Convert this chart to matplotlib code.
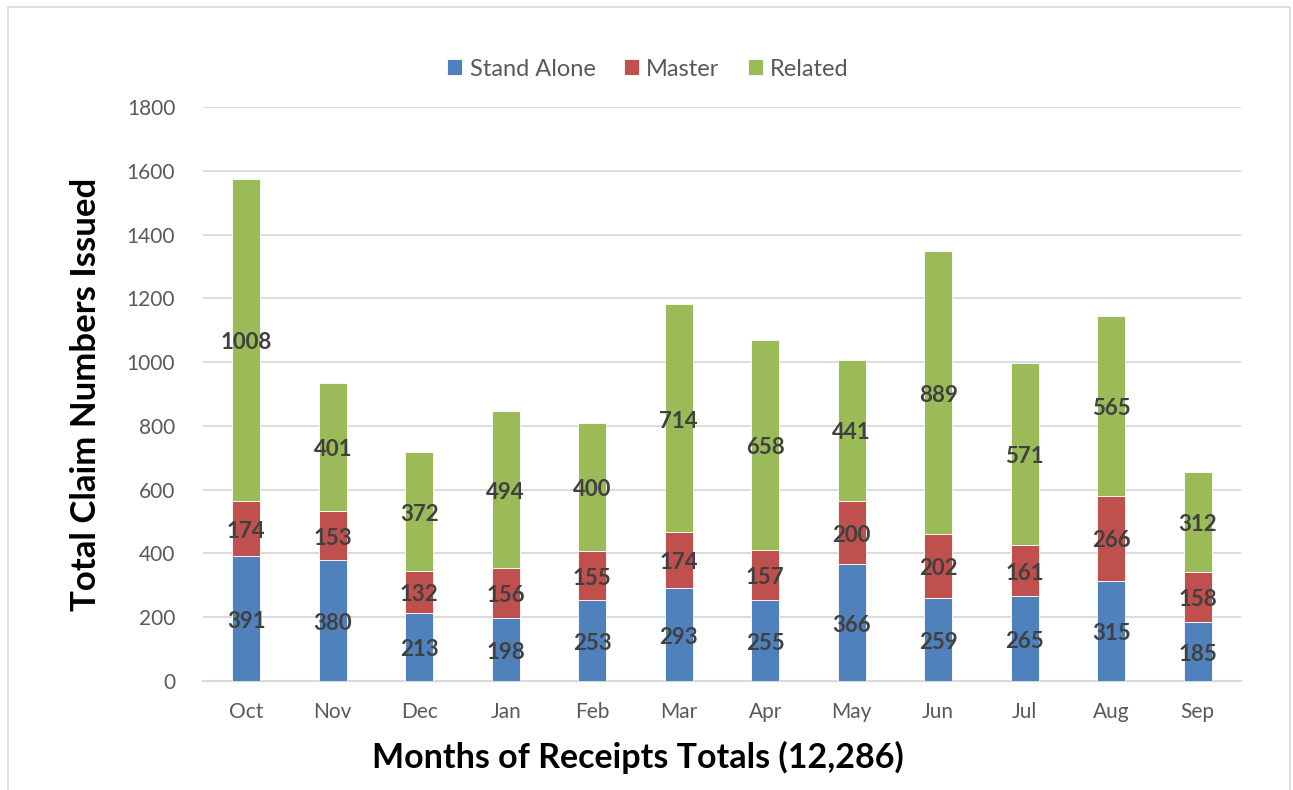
import matplotlib
matplotlib.use("Agg")
import matplotlib.pyplot as plt
from matplotlib.patches import Rectangle
import numpy as np

months = ["Oct", "Nov", "Dec", "Jan", "Feb", "Mar", "Apr", "May", "Jun", "Jul", "Aug", "Sep"]
stand_alone = [391, 380, 213, 198, 253, 293, 255, 366, 259, 265, 315, 185]
master = [174, 153, 132, 156, 155, 174, 157, 200, 202, 161, 266, 158]
related = [1008, 401, 372, 494, 400, 714, 658, 441, 889, 571, 565, 312]
series_names = ["Stand Alone", "Master", "Related"]
colors = ["#4F81BD", "#C0504D", "#9BBB59"]
yticks = [0, 200, 400, 600, 800, 1000, 1200, 1400, 1600, 1800]

plt.rcParams['font.family'] = ['Lato', 'DejaVu Sans']

W, H = 1293, 790
fig = plt.figure(figsize=(W / 100, H / 100), dpi=100)
ax = fig.add_axes([203 / W, 1 - 681 / H, (1241 - 203) / W, (681 - 107) / H])

x = np.arange(len(months))
bottom = np.zeros(len(months))
width = 0.32
for name, vals, c in zip(series_names, [stand_alone, master, related], colors):
    vals = np.array(vals)
    ax.bar(x, vals, width, bottom=bottom, color=c, label=name,
           edgecolor="white", linewidth=0.6, zorder=3)
    for xi, b, v in zip(x, bottom, vals):
        ax.annotate(str(v), (xi, b + v / 2), xytext=(0, -2), textcoords="offset points",
                    ha="center", va="center", fontsize=16, fontweight="bold",
                    color="#404040", zorder=4)
    bottom += vals

ax.set_xlim(-0.5, len(months) - 0.5)
ax.set_ylim(0, 1800)
ax.set_yticks(yticks)
ax.set_xticks(x)
ax.set_xticklabels(months)
ax.grid(axis="y", color="#D9D9D9", linewidth=1.3, zorder=0)
ax.set_axisbelow(True)
for s in ["top", "right", "left"]:
    ax.spines[s].set_visible(False)
ax.spines["bottom"].set_color("#D9D9D9")
ax.spines["bottom"].set_linewidth(1.5)
ax.tick_params(axis="both", length=0, labelsize=15, labelcolor="#595959")
ax.tick_params(axis="y", pad=20)
ax.tick_params(axis="x", pad=15)

ax.set_ylabel("Total Claim Numbers Issued", fontsize=25, fontweight="bold",
              color="black", labelpad=18)

fig.text(638 / W, 1 - 757 / H, "Months of Receipts Totals (12,286)", fontsize=24.5,
         fontweight="bold", color="black", ha="center", va="center")

leg = fig.legend(loc="center", bbox_to_anchor=(648 / W, 1 - 69 / H), ncol=3,
                 frameon=False, fontsize=17, handlelength=0.65, handleheight=0.65,
                 handletextpad=0.3, columnspacing=1.2)
for t in leg.get_texts():
    t.set_color("#595959")

fig.patches.append(Rectangle((8 / W, -0.02), (1290 - 8) / W, 1.02 - 7 / H,
                             transform=fig.transFigure, fill=False,
                             edgecolor="#D9D9D9", linewidth=1.2))

fig.savefig("out.png", dpi=100)
